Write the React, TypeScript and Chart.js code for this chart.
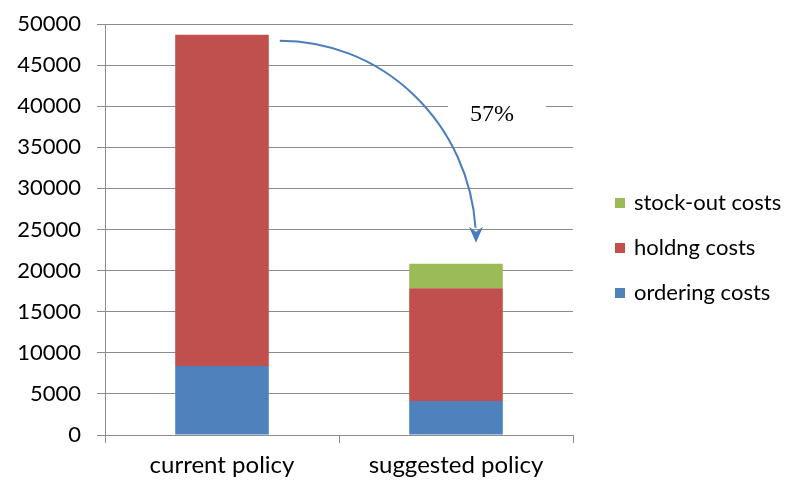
import React, { useEffect, useRef } from "react";
import { Chart, registerables } from "chart.js";

Chart.register(...registerables);

const categories = ["current policy", "suggested policy"];
const orderingCosts = [8380, 4130];
const holdingCosts = [40320, 13720];
const stockoutCosts = [0, 2970];
const yTicks = [0, 5000, 10000, 15000, 20000, 25000, 30000, 35000, 40000, 45000, 50000];
const reductionLabel = "57%";

const BLUE = "#4F81BD";
const RED = "#C0504D";
const GREEN = "#9BBB59";
const GRID = "#8C8C8C";
const FONT = "Lato";

const legendPlugin = {
  id: "customLegend",
  afterDraw(chart: any) {
    const ctx = chart.ctx;
    const items = [...chart.data.datasets].reverse();
    ctx.save();
    ctx.font = `22px ${FONT}`;
    ctx.textBaseline = "middle";
    ctx.textAlign = "left";
    const startY = 203;
    const gap = 45;
    items.forEach((ds: any, i: number) => {
      const y = startY + i * gap;
      ctx.fillStyle = ds.backgroundColor;
      ctx.fillRect(615, y - 5, 10, 10);
      ctx.fillStyle = "#000";
      ctx.fillText(ds.label, 634, y);
    });
    ctx.restore();
  },
};

const arrowPlugin = {
  id: "arrowNote",
  afterDraw(chart: any) {
    const ctx = chart.ctx;
    const xs = chart.scales.x;
    const ys = chart.scales.y;
    const meta0 = chart.getDatasetMeta(1).data[0];
    const top0 = orderingCosts[0] + holdingCosts[0] + stockoutCosts[0];
    const top1 = orderingCosts[1] + holdingCosts[1] + stockoutCosts[1];
    const barRight = meta0.x + meta0.width / 2;
    const sx = barRight + 11;
    const sy = ys.getPixelForValue(top0) + 6;
    const ex = xs.getPixelForValue(1) + 20;
    const ey = ys.getPixelForValue(top1) - 22;

    // label box
    const tx = xs.getPixelForValue(1) + 36;
    const ty = ys.getPixelForValue(39000);
    ctx.save();
    ctx.fillStyle = "#fff";
    ctx.fillRect(448, ty - 18, 98, 36);
    ctx.fillStyle = "#000";
    ctx.font = `24px "Liberation Serif"`;
    ctx.textAlign = "center";
    ctx.textBaseline = "middle";
    ctx.fillText(reductionLabel, tx, ty);

    // curved arrow (quarter ellipse)
    const cx = sx;
    const cy = ey;
    const a = ex - sx;
    const b = ey - sy;
    ctx.strokeStyle = "#4A7EBB";
    ctx.lineWidth = 2;
    ctx.beginPath();
    ctx.ellipse(cx, cy, a, b, 0, -Math.PI / 2, -0.07);
    ctx.stroke();
    // arrow head
    ctx.fillStyle = "#4A7EBB";
    ctx.beginPath();
    ctx.moveTo(ex, ey + 1);
    ctx.lineTo(ex - 7, ey - 15);
    ctx.lineTo(ex, ey - 10);
    ctx.lineTo(ex + 7, ey - 15);
    ctx.closePath();
    ctx.fill();
    ctx.restore();
  },
};

export default function App() {
  const ref = useRef<HTMLCanvasElement>(null);
  useEffect(() => {
    if (!ref.current) return;
    const chart = new Chart(ref.current, {
      type: "bar",
      data: {
        labels: categories,
        datasets: [
          { label: "ordering costs", data: orderingCosts, backgroundColor: BLUE },
          { label: "holdng costs", data: holdingCosts, backgroundColor: RED },
          { label: "stock-out costs", data: stockoutCosts, backgroundColor: GREEN },
        ],
      },
      options: {
        responsive: false,
        animation: false,
        layout: { padding: { top: 24, right: 214, left: 0, bottom: 0 } },
        datasets: { bar: { barPercentage: 0.4, categoryPercentage: 1 } },
        plugins: { legend: { display: false }, tooltip: { enabled: false } },
        scales: {
          x: {
            stacked: true,
            grid: {
              offset: true,
              drawOnChartArea: false,
              drawTicks: true,
              tickLength: 8,
              color: GRID,
              lineWidth: 1,
            },
            border: { color: GRID, width: 1 },
            ticks: { color: "#000", font: { family: FONT, size: 24 }, padding: 8 },
            afterFit: (s: any) => {
              s.height = 48;
              s.paddingLeft = 0;
              s.paddingRight = 0;
            },
          },
          y: {
            stacked: true,
            min: 0,
            max: 50000,
            afterBuildTicks: (s: any) => {
              s.ticks = yTicks.map((v) => ({ value: v }));
            },
            grid: { color: GRID, lineWidth: 1, tickLength: 8 },
            border: { color: GRID, width: 1 },
            ticks: {
              color: "#000",
              font: { family: FONT, size: 22 },
              padding: 16,
              callback: (v: any) => String(v),
            },
            afterFit: (s: any) => {
              s.width = 105;
              s.paddingTop = 0;
              s.paddingBottom = 0;
            },
          },
        },
      },
      plugins: [legendPlugin, arrowPlugin],
    });
    return () => chart.destroy();
  }, []);
  return (
    <div style={{ position: "fixed", left: 0, top: 0, width: 787, height: 483, background: "#fff" }}>
      <canvas ref={ref} width={787} height={483} />
    </div>
  );
}
